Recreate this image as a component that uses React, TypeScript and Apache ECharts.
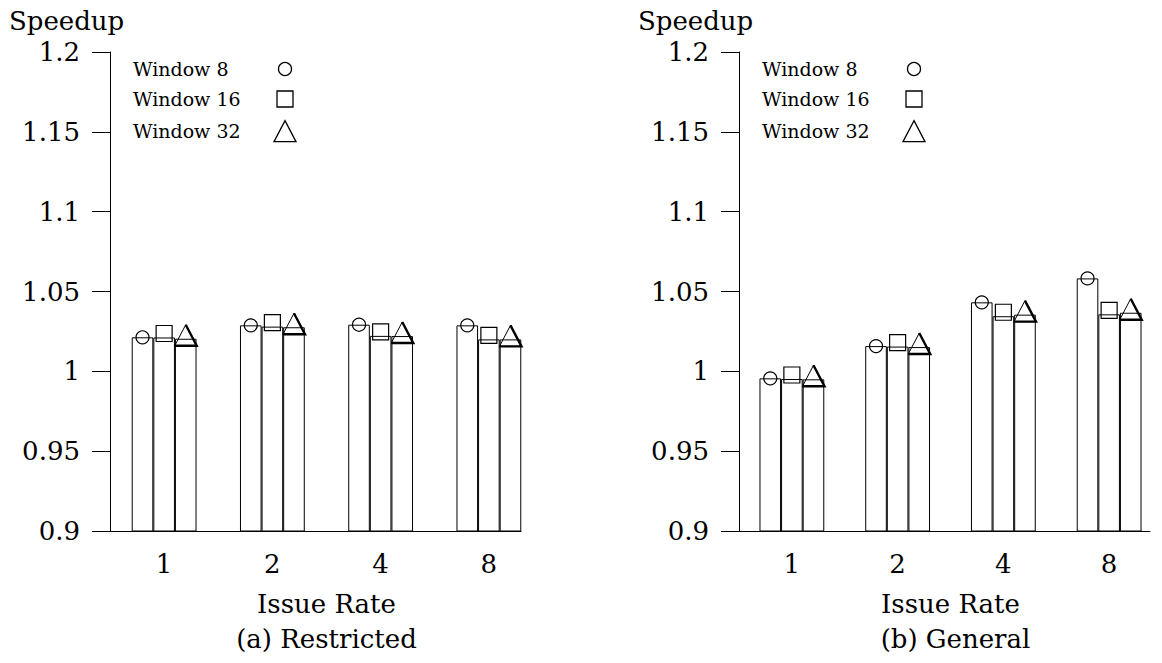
import { useEffect, useRef } from 'react';
import * as echarts from 'echarts';

// ---- data ----
const categories = ['1', '2', '4', '8'];
const seriesNames = ['Window 8', 'Window 16', 'Window 32'];
const restrictedW8 = [1.0213, 1.0288, 1.0292, 1.0288];
const restrictedW16 = [1.0212, 1.028, 1.0222, 1.02];
const restrictedW32 = [1.0204, 1.0276, 1.0221, 1.02];
const generalW8 = [0.9956, 1.0158, 1.0432, 1.0582];
const generalW16 = [0.9952, 1.0155, 1.0345, 1.0357];
const generalW32 = [0.995, 1.0152, 1.0355, 1.0367];
const yMin = 0.9;
const yMax = 1.2;
const yStep = 0.05;
const yTitle = 'Speedup';
const xTitle = 'Issue Rate';
const panelTitles = ['(a) Restricted', '(b) General'];

const panels = [
  { title: panelTitles[0], values: [restrictedW8, restrictedW16, restrictedW32] },
  { title: panelTitles[1], values: [generalW8, generalW16, generalW32] },
];

// ---- styles ----
const FONT = '"DejaVu Serif", "Liberation Serif", serif';
const BAR_W = 21.6;
const symbols = ['circle', 'rect', 'triangle'];
const symbolSizes: [number, number][] = [[13, 13], [16, 16], [22, 21]];
const symbolLift = [0, 4, 3.5];
const legendTops = [59.5, 89.5, 120];

function makeMarkerRenderer(si: number) {
  const [w, h] = symbolSizes[si];
  const lift = symbolLift[si];
  return (params: any, api: any) => {
    const pt = api.coord([api.value(0), api.value(1)]);
    const x = pt[0] + (si - 1) * BAR_W;
    const y = pt[1] - lift;
    const stroke = { fill: 'none', stroke: '#000', lineWidth: 1.2 };
    if (si === 0) {
      return { type: 'circle', shape: { cx: x, cy: y, r: w / 2 }, style: stroke };
    }
    if (si === 1) {
      return { type: 'rect', shape: { x: x - w / 2, y: y - h / 2, width: w, height: h }, style: stroke };
    }
    const apex = [x, y - h / 2];
    const br = [x + w / 2, y + h / 2];
    const bl = [x - w / 2, y + h / 2];
    return {
      type: 'group',
      children: [
        { type: 'polygon', shape: { points: [apex, br, bl] }, style: { fill: 'none', stroke: '#000', lineWidth: 1 } },
        { type: 'polyline', shape: { points: [apex, br, bl] }, style: { fill: 'none', stroke: '#000', lineWidth: 2.4, lineJoin: 'miter' } },
      ],
    };
  };
}

export default function App() {
  const ref = useRef<HTMLDivElement>(null);
  useEffect(() => {
    if (!ref.current) return;
    const chart = echarts.init(ref.current, null, { renderer: 'svg' });
    const grids: any[] = [];
    const xAxes: any[] = [];
    const yAxes: any[] = [];
    const series: any[] = [];
    const legends: any[] = [];
    const graphics: any[] = [];
    const axisLeft = 110;
    const panelShift = 629;
    const gridTop = 52;
    const gridHeight = 479;
    const bandWidth = 433;
    const lineWidth = 411;

    panels.forEach((p, pi) => {
      const left = axisLeft + pi * panelShift;
      grids.push({ left, top: gridTop, width: bandWidth, height: gridHeight, containLabel: false });
      grids.push({ left, top: gridTop, width: lineWidth, height: gridHeight, containLabel: false });
      const gA = pi * 2;
      const gB = pi * 2 + 1;
      xAxes.push({
        type: 'category',
        gridIndex: gA,
        data: categories,
        axisLine: { show: false },
        axisTick: { show: false },
        axisLabel: { margin: 20, color: '#000', fontSize: 26, fontFamily: FONT },
        name: xTitle,
        nameLocation: 'middle',
        nameGap: 60,
        nameTextStyle: { color: '#000', fontSize: 26, fontFamily: FONT },
      });
      xAxes.push({
        type: 'value',
        gridIndex: gB,
        min: 0,
        max: 1,
        axisLine: { show: true, lineStyle: { color: '#000', width: 1 } },
        axisTick: { show: false },
        axisLabel: { show: false },
        splitLine: { show: false },
      });
      yAxes.push({
        type: 'value',
        gridIndex: gA,
        min: yMin,
        max: yMax,
        interval: yStep,
        axisLine: { show: true, lineStyle: { color: '#000', width: 1 } },
        axisTick: { show: true, inside: false, length: 18, lineStyle: { color: '#000', width: 1 } },
        axisLabel: { margin: 30, color: '#000', fontSize: 26, fontFamily: FONT },
        splitLine: { show: false },
      });
      yAxes.push({ type: 'value', gridIndex: gB, min: 0, max: 1, show: false });

      p.values.forEach((vals, si) => {
        series.push({
          type: 'bar',
          name: 'bar-' + pi + '-' + si,
          xAxisIndex: gA,
          yAxisIndex: gA,
          data: vals,
          barWidth: BAR_W,
          barGap: '0%',
          itemStyle: { color: '#fff', borderColor: '#000', borderWidth: 1 },
          z: 2,
        });
        series.push({
          type: 'custom',
          name: seriesNames[si],
          xAxisIndex: gA,
          yAxisIndex: gA,
          data: vals.map((v, i) => [i, v]),
          encode: { x: 0, y: 1 },
          renderItem: makeMarkerRenderer(si),
          z: 3,
          silent: true,
        });
        const sz = symbolSizes[si];
        const iconCenterX = 285 + pi * panelShift;
        const textLeft = 133 + pi * panelShift;
        const w = iconCenterX - textLeft - 5 - sz[0] / 2;
        legends.push({
          orient: 'vertical',
          left: textLeft,
          top: legendTops[si],
          align: 'right',
          padding: 0,
          itemWidth: sz[0],
          itemHeight: sz[1],
          selectedMode: false,
          data: [{ name: seriesNames[si], icon: symbols[si] }],
          formatter: '{a|{name}}',
          itemStyle: { color: 'rgba(0,0,0,0)', borderColor: '#000', borderWidth: 1.3 },
          textStyle: {
            color: '#000',
            fontFamily: FONT,
            fontSize: 19,
            rich: { a: { width: w, align: 'left', fontFamily: FONT, fontSize: 19, lineHeight: 20, color: '#000' } },
          },
        });
      });

      graphics.push({
        type: 'text',
        left: 9 + pi * panelShift,
        top: 8,
        style: { text: yTitle, fill: '#000', font: '26px ' + FONT },
      });
      graphics.push({
        type: 'text',
        x: axisLeft + pi * panelShift + bandWidth / 2,
        y: 639,
        style: { text: p.title, fill: '#000', font: '26px ' + FONT, align: 'center', verticalAlign: 'middle' },
      });
    });

    chart.setOption({
      animation: false,
      backgroundColor: '#fff',
      grid: grids,
      xAxis: xAxes,
      yAxis: yAxes,
      series,
      legend: legends,
      graphic: graphics,
    });
    return () => chart.dispose();
  }, []);
  return (
    <div
      ref={ref}
      style={{ position: 'fixed', left: 0, top: 0, width: 1162, height: 663, background: '#fff' }}
    />
  );
}
